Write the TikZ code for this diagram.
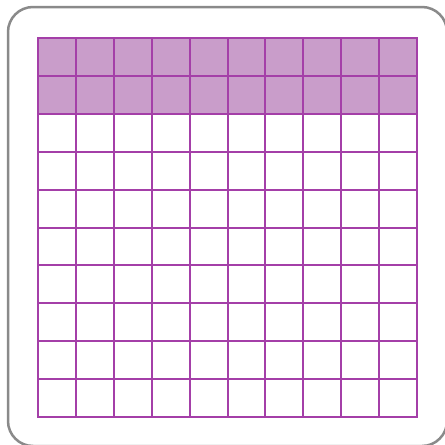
\documentclass[tikz,border=0pt]{standalone}
\definecolor{gridpurple}{HTML}{A43FA8}
\definecolor{shadepurple}{HTML}{C99DCA}
\definecolor{framegray}{HTML}{8A8A8A}
\begin{document}
\begin{tikzpicture}[x=1pt,y=-1pt,
    gridline/.style={draw=gridpurple,line width=2pt,line cap=rect},
    frame/.style={draw=framegray,line width=2.5pt,rounded corners=25pt}]
        \useasboundingbox (0,0) rectangle (445,445);
        \draw [frame] (8,7) rectangle (447,446);
        \fill [shadepurple] (38,38) rectangle (417,114);
        \foreach \i in {0,...,10} {
            \draw [gridline] (38+37.9*\i,38) -- (38+37.9*\i,417);
            \draw [gridline] (38,38+37.9*\i) -- (417,38+37.9*\i);
        }
    \end{tikzpicture}
\end{document}
